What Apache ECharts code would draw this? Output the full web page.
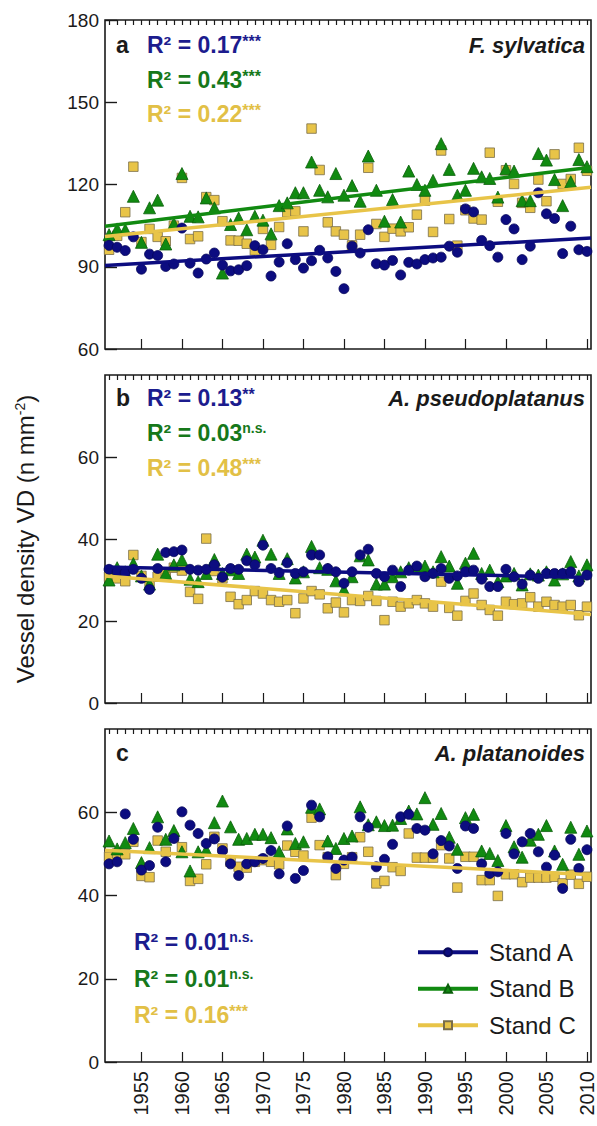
<!DOCTYPE html>
<html><head><meta charset="utf-8">
<script src="https://cdn.jsdelivr.net/npm/echarts@6/dist/echarts.min.js"></script>
<style>html,body{margin:0;padding:0;background:#fff}#c{width:597px;height:1126px}</style>
</head><body><div id="c"></div>
<script>
// ---------- data ----------
const years = [1951,1952,1953,1954,1955,1956,1957,1958,1959,1960,1961,1962,1963,1964,1965,1966,1967,1968,1969,1970,
  1971,1972,1973,1974,1975,1976,1977,1978,1979,1980,1981,1982,1983,1984,1985,1986,1987,1988,1989,1990,
  1991,1992,1993,1994,1995,1996,1997,1998,1999,2000,2001,2002,2003,2004,2005,2006,2007,2008,2009,2010];
const majorYears = [1955,1960,1965,1970,1975,1980,1985,1990,1995,2000,2005,2010];

// Panel a: F. sylvatica
const fsA = [97.8,97.1,95.9,100.9,89.1,94.6,94.1,90.1,91.0,104.1,91.3,87.7,92.8,95.0,90.6,88.5,88.9,90.4,97.7,96.2,
  86.6,91.7,98.4,92.6,89.5,92.2,96.0,93.2,88.3,82.0,97.5,95.0,103.5,91.1,90.6,92.3,87.0,91.6,91.0,92.6,
  93.2,93.5,97.5,95.3,111.1,110.0,99.6,97.7,93.5,107.2,103.8,92.6,97.5,117.0,109.3,107.6,94.8,104.8,96.2,95.6];
const fsB = [101.7,103.8,103.5,115.7,98.9,111.5,114.3,98.3,105.7,124.0,108.4,108.2,115.1,111.5,87.7,105.4,107.8,103.5,108.4,107.0,
  102.0,112.3,113.3,117.0,117.0,128.2,117.9,115.5,124.0,116.1,119.6,113.9,130.4,117.9,106.6,114.5,106.3,124.9,120.0,117.9,
  121.5,134.9,125.5,116.1,117.9,125.9,122.8,122.2,115.4,125.7,124.9,114.1,114.1,131.3,128.9,121.8,112.3,121.0,129.1,126.5];
const fsC = [96.2,101.3,109.9,126.5,99.0,103.8,100.9,99.3,105.0,122.4,100.1,101.1,115.4,114.3,106.6,99.6,99.5,98.4,96.0,103.8,
  98.0,104.5,109.9,110.2,102.9,140.4,125.3,106.2,102.9,101.7,97.8,101.7,126.1,105.6,100.9,103.9,102.9,104.4,109.0,114.1,
  102.7,132.4,107.4,97.7,110.6,107.6,107.2,131.6,113.7,125.2,120.2,113.3,111.5,121.8,113.9,131.0,120.2,122.0,133.4,125.0];

// Panel b: A. pseudoplatanus
const apA = [32.6,32.0,31.8,32.6,30.4,27.7,32.8,36.7,36.9,37.3,32.6,32.4,32.6,33.7,30.7,32.8,32.6,34.7,33.7,38.5,
  32.8,31.8,34.2,31.6,32.0,36.1,36.1,32.8,32.0,29.2,32.0,36.1,37.5,31.6,30.8,32.4,28.4,32.4,33.4,30.8,
  31.6,32.8,30.4,31.0,32.0,32.4,30.2,28.4,28.4,32.6,30.8,29.0,31.2,30.4,31.6,31.6,31.6,32.0,29.6,31.2];
const apB = [30.0,33.0,32.0,34.0,31.0,29.0,36.3,31.6,33.7,34.9,30.2,29.6,31.6,35.0,31.6,32.5,31.6,36.3,35.6,39.7,
  36.3,31.6,35.2,30.5,32.0,38.2,33.0,32.6,29.8,27.6,30.8,35.9,34.9,29.0,29.0,30.8,32.0,33.0,33.0,33.4,
  32.0,35.7,33.4,29.2,34.1,36.5,31.6,32.4,29.6,31.0,31.6,28.8,31.5,31.2,32.0,30.0,31.5,34.5,31.0,33.7];
const apC = [30.8,30.4,29.7,36.1,31.0,28.8,30.8,31.4,33.0,32.3,27.1,25.4,40.1,32.2,30.4,25.9,24.1,25.1,27.3,26.7,
  25.1,24.7,25.1,21.9,25.5,27.3,26.5,23.1,24.5,22.1,25.1,24.9,26.1,24.9,20.2,24.7,23.5,24.3,25.1,24.3,
  23.5,29.6,23.2,21.3,24.9,26.7,23.9,22.7,21.3,24.7,24.1,24.3,25.8,23.5,24.7,23.9,23.5,23.9,21.4,23.5];

// Panel c: A. platanoides
const plA = [47.6,48.1,59.6,53.5,46.1,47.2,56.4,48.1,53.7,60.1,56.9,54.9,52.5,53.6,50.8,47.6,44.8,47.6,48.1,48.9,
  50.8,45.2,56.7,44.1,46.0,61.7,58.9,49.3,46.5,48.5,49.2,58.9,56.4,46.9,48.7,52.3,58.9,59.5,56.1,55.7,
  50.0,53.2,51.9,46.5,56.7,56.1,47.6,45.3,45.7,54.9,50.0,52.9,54.9,50.5,46.8,49.7,41.7,53.5,46.5,51.0];
const plB = [53.1,51.2,52.7,56.1,47.9,51.5,58.9,53.5,55.6,50.5,45.9,50.5,50.9,57.5,62.7,56.5,53.5,53.7,54.7,54.7,
  53.9,50.5,56.0,52.5,52.9,61.2,60.8,53.1,51.3,53.7,54.3,61.3,57.0,57.7,56.8,56.9,58.5,60.3,59.6,63.5,
  57.1,59.7,54.0,51.1,58.7,59.5,50.7,50.1,48.4,56.8,51.7,49.2,53.3,54.7,56.8,50.7,47.5,56.4,49.9,55.5];
const plC = [49.3,50.1,49.9,52.9,44.7,44.4,53.2,50.5,53.9,51.6,43.5,44.0,47.5,54.1,51.3,48.1,46.9,46.7,48.1,48.5,
  48.1,47.5,52.0,50.5,49.6,58.7,52.1,49.2,44.9,47.6,49.2,54.0,50.5,42.9,43.5,46.8,45.9,54.9,49.1,49.1,
  49.1,52.1,48.9,41.9,49.3,49.3,43.7,43.7,39.9,45.1,45.1,43.2,44.3,44.3,44.3,44.5,42.9,45.0,42.8,44.5];

// regression lines: values read at the left and right plot edges
const trendX = [1950.5, 2010.5];
const fsTrendA = [90.5, 100.5];
const fsTrendB = [104.8, 126.3];
const fsTrendC = [101.0, 119.0];
const apTrendA = [33.2, 30.6];
const apTrendC = [31.0, 21.6];
const plTrendC = [50.9, 45.0];

const standNames = ['Stand A', 'Stand B', 'Stand C'];
const panelLetters = ['a', 'b', 'c'];
const speciesNames = ['F. sylvatica', 'A. pseudoplatanus', 'A. platanoides'];
const r2Values = [['0.17','0.43','0.22'], ['0.13','0.03','0.48'], ['0.01','0.01','0.16']];
const r2Signif = [['***','***','***'], ['**','n.s.','***'], ['n.s.','n.s.','***']];
const yTicksA = [60, 90, 120, 150, 180];
const yTicksBC = [0, 20, 40, 60];

// ---------- style ----------
const FONT = "'Liberation Sans', Arial, sans-serif";
const INK = '#1a1a1a';
const colA = '#0c0c80', colB = '#118a11', colC = '#e8c448';
const txtA = '#1c1c8e', txtB = '#16781a', txtC = '#e2c046';
const markers = [
  {symbol: 'circle', size: 10, color: colA, border: '#08085a', z: 4},
  {symbol: 'triangle', size: 12, color: colB, border: '#0b5f0b', z: 3},
  {symbol: 'rect', size: 9.5, color: colC, border: '#7a6e4a', z: 2}
];
const lineCols = [colA, colB, colC];
const txtCols = [txtA, txtB, txtC];

const grids = [
  {left: 105, right: 6, top: 20, height: 329},
  {left: 105, right: 6, top: 375, height: 328},
  {left: 105, right: 6, top: 729, height: 333}
].map(g => Object.assign(g, {show: true, borderColor: INK, borderWidth: 1.6, backgroundColor: 'transparent', containLabel: false}));

const xAxes = [], yAxes = [];
for (let p = 0; p < 3; p++) {
  xAxes.push({
    type: 'value', gridIndex: p, min: 1950.5, max: 2010.5,
    axisLine: {show: false}, splitLine: {show: false},
    axisTick: {show: true, inside: true, length: 10, customValues: majorYears, lineStyle: {color: INK, width: 1.2}},
    axisLabel: {show: p === 2, customValues: majorYears, rotate: 90, fontSize: 20, margin: 9, color: INK,
      fontFamily: FONT, formatter: v => String(v)}
  });
  xAxes.push({
    type: 'value', gridIndex: p, min: 1950.5, max: 2010.5,
    axisLine: {show: false}, splitLine: {show: false},
    axisTick: {show: true, inside: true, length: 5, customValues: years, lineStyle: {color: INK, width: 1.2}},
    axisLabel: {show: false}
  });
  const isA = p === 0;
  const y = {
    type: 'value', gridIndex: p,
    min: isA ? 60 : 0, max: isA ? 180 : 80, interval: isA ? 30 : 20,
    axisLine: {show: false}, splitLine: {show: false},
    axisTick: {show: true, inside: true, length: 12, customValues: isA ? yTicksA : yTicksBC, lineStyle: {color: INK, width: 1.4}},
    axisLabel: {fontSize: 19, margin: 6, color: INK, fontFamily: FONT, customValues: isA ? yTicksA : yTicksBC}
  };
  if (p === 1) {
    Object.assign(y, {
      name: 'Vessel density VD (n mm{sup|-2})',
      nameLocation: 'middle', nameGap: 68, nameRotate: 90,
      nameTextStyle: {fontSize: 24, color: INK, fontFamily: FONT,
        rich: {sup: {fontSize: 14, color: INK, fontFamily: FONT, verticalAlign: 'top'}}}
    });
  }
  yAxes.push(y);
}

const panelData = [[fsA, fsB, fsC], [apA, apB, apC], [plA, plB, plC]];
const series = [];
panelData.forEach((trip, p) => {
  trip.forEach((vals, s) => {
    const m = markers[s];
    series.push({
      type: 'scatter', name: standNames[s] + ' ' + panelLetters[p],
      xAxisIndex: 2 * p, yAxisIndex: p,
      data: years.map((yr, i) => [yr, vals[i]]),
      symbol: m.symbol, symbolSize: m.size, z: m.z,
      itemStyle: {color: m.color, borderColor: m.border, borderWidth: 0.8, opacity: 1},
      silent: true, animation: false
    });
  });
});
const trends = [
  [0, 0, fsTrendA], [0, 1, fsTrendB], [0, 2, fsTrendC],
  [1, 0, apTrendA], [1, 2, apTrendC],
  [2, 2, plTrendC]
];
trends.forEach(([p, s, v]) => {
  series.push({
    type: 'line', name: 'trend ' + panelLetters[p] + s,
    xAxisIndex: 2 * p, yAxisIndex: p,
    data: trendX.map((x, i) => [x, v[i]]),
    showSymbol: false, z: 6, silent: true, animation: false,
    lineStyle: {width: 3.5, color: lineCols[s]}
  });
});
// legend entries (line + marker icons)
standNames.forEach((n, s) => {
  const m = markers[s];
  series.push({
    type: 'line', name: n, xAxisIndex: 4, yAxisIndex: 2, data: [],
    symbol: m.symbol, symbolSize: m.size,
    lineStyle: {width: 4, color: lineCols[s]},
    itemStyle: {color: m.color, borderColor: m.border, borderWidth: 0.8}
  });
});

// annotations
const graphic = [];
const letterPos = [[116, 45], [116, 398], [116, 753]];
const speciesPos = [[585, 45], [585, 398], [585, 753]];
const r2Pos = [
  [[147, 45], [147, 80], [147, 114]],
  [[147, 398], [147, 433], [147, 468]],
  [[134, 942], [134, 979], [134, 1015]]
];
for (let p = 0; p < 3; p++) {
  graphic.push({type: 'text', x: letterPos[p][0], y: letterPos[p][1], silent: true,
    style: {text: panelLetters[p], fill: INK, font: 'bold 23px ' + FONT, align: 'left', verticalAlign: 'middle'}});
  graphic.push({type: 'text', x: speciesPos[p][0], y: speciesPos[p][1], silent: true,
    style: {text: speciesNames[p], fill: INK, font: 'italic bold 22px ' + FONT, align: 'right', verticalAlign: 'middle'}});
  for (let s = 0; s < 3; s++) {
    const c = txtCols[s];
    const sig = r2Signif[p][s];
    graphic.push({type: 'text', x: r2Pos[p][s][0], y: r2Pos[p][s][1], silent: true,
      style: {
        text: '{m|R² = ' + r2Values[p][s] + '}{s|' + sig + '}',
        align: 'left', verticalAlign: 'middle',
        rich: {
          m: {fill: c, color: c, fontSize: 23, fontWeight: 'bold', fontFamily: FONT, lineHeight: 24},
          s: {fill: c, color: c, fontSize: sig === 'n.s.' ? 14 : 16, fontWeight: 'bold', fontFamily: FONT,
              verticalAlign: 'top', lineHeight: 14}
        }
      }});
  }
}

const chart = echarts.init(document.getElementById('c'), null, {renderer: 'svg', width: 597, height: 1126});
chart.setOption({
  animation: false,
  backgroundColor: '#fff',
  grid: grids, xAxis: xAxes, yAxis: yAxes, series,
  legend: {
    data: standNames, orient: 'vertical', left: 411, top: 935,
    itemWidth: 60, itemHeight: 10, itemGap: 12, selectedMode: false,
    lineStyle: {width: 4},
    textStyle: {fontSize: 24, color: INK, fontFamily: FONT, lineHeight: 24.5, padding: [0, 0, 0, 6]}
  },
  graphic
});
</script></body></html>
